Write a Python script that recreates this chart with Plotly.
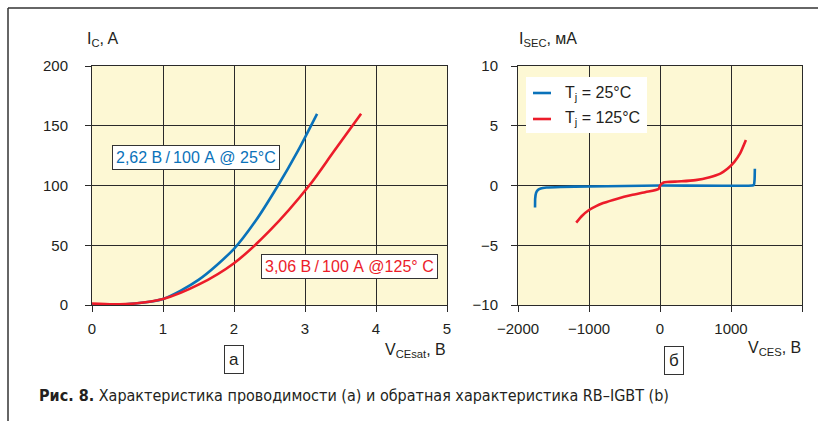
import plotly.graph_objects as go

W, H = 818, 421

# Forward conduction characteristic, I_C vs V_CEsat
vce_25 = [0, 0.3, 0.6, 1.0, 1.5, 2.0, 2.3, 2.62, 2.9, 3.17]
ic_25 = [0, 0.2, 1.2, 5, 21, 47, 70, 100, 129, 160]
vce_125 = [0, 0.3, 0.6, 1.0, 1.5, 2.0, 2.5, 3.06, 3.4, 3.79]
ic_125 = [1.2, 0.6, 1.2, 5, 17, 35, 62, 100, 128, 160]

# Reverse blocking characteristic, I_SEC vs V_CES
vces_25 = [-1760, -1758, -1745, -1720, -1680, -1600, -1400, -1000, -500, 0, 1300, 1322, 1332, 1336]
isec_25 = [-1.85, -1.1, -0.6, -0.38, -0.25, -0.17, -0.12, -0.08, -0.04, 0, 0, 0.05, 0.5, 1.4]
vces_125 = [-1180, -1100, -1000, -900, -800, -600, -400, -200, -20, 0, 50, 100, 300, 500, 700, 850, 950, 1050, 1130, 1210]
isec_125 = [-3.1, -2.55, -2.05, -1.72, -1.47, -1.1, -0.8, -0.55, -0.3, 0, 0.25, 0.3, 0.35, 0.45, 0.7, 1.0, 1.4, 2.0, 2.7, 3.8]

left_xticks = [0, 1, 2, 3, 4, 5]
left_yticks = [0, 50, 100, 150, 200]
right_xticks = [-2000, -1000, 0, 1000, 2000]
right_yticks = [-10, -5, 0, 5, 10]

BLUE = "#0a72ba"
RED = "#ec1c2a"
GRID = "#2a2a2a"
BG = "#fdf8d4"
TXT = "#231f20"
FONT = "Liberation Sans, Arial, sans-serif"


def px(x):
    return x / W


def py(y):
    return 1 - y / H


fig = go.Figure()
fig.add_trace(go.Scatter(x=vce_25, y=ic_25, mode="lines", line=dict(color=BLUE, width=2.6, shape="spline", smoothing=0.8),
                         xaxis="x", yaxis="y", showlegend=False, name="25°C"))
fig.add_trace(go.Scatter(x=vce_125, y=ic_125, mode="lines", line=dict(color=RED, width=2.6, shape="spline", smoothing=0.8),
                         xaxis="x", yaxis="y", showlegend=False, name="125°C"))
fig.add_trace(go.Scatter(x=vces_25, y=isec_25, mode="lines", line=dict(color=BLUE, width=2.6, shape="spline", smoothing=0.5),
                         xaxis="x2", yaxis="y2", showlegend=False, name="T<sub>j</sub> = 25°C"))
fig.add_trace(go.Scatter(x=vces_125, y=isec_125, mode="lines", line=dict(color=RED, width=2.6, shape="spline", smoothing=0.5),
                         xaxis="x2", yaxis="y2", showlegend=False, name="T<sub>j</sub> = 125°C"))

ydom = [py(305), py(66)]
axis_common = dict(showgrid=True, gridcolor=GRID, gridwidth=1, showline=True, linecolor=GRID, linewidth=1,
                   mirror=True, ticks="outside", ticklen=6, tickcolor=GRID, zeroline=False, automargin=False,
                   tickfont=dict(family=FONT, size=15, color=TXT))

fig.update_layout(
    width=W, height=H, margin=dict(l=0, r=0, t=0, b=0, pad=0),
    paper_bgcolor="white", plot_bgcolor=BG, showlegend=False,
    xaxis=dict(domain=[px(92), px(447)], range=[0, 5], tickvals=left_xticks, anchor="y",
               ticklabelstandoff=4, **axis_common),
    yaxis=dict(domain=ydom, range=[0, 200], tickvals=left_yticks, anchor="x",
               ticklabelstandoff=14, **axis_common),
    xaxis2=dict(domain=[px(518), px(802)], range=[-2000, 2000], tickvals=right_xticks, anchor="y2",
                ticklabelstandoff=4, **axis_common),
    yaxis2=dict(domain=ydom, range=[-10, 10], tickvals=right_yticks, anchor="x2",
                ticklabelstandoff=10, **axis_common),
)

shapes = [
    # frame around the figure
    dict(type="line", xref="paper", yref="paper", x0=px(8), x1=1, y0=py(8), y1=py(8), line=dict(color="#333333", width=1.5)),
    dict(type="line", xref="paper", yref="paper", x0=px(8), x1=px(8), y0=py(8), y1=0, line=dict(color="#333333", width=1.5)),
    # legend box of the right panel
    dict(type="rect", xref="paper", yref="paper", x0=px(526), x1=px(647), y0=py(133), y1=py(77),
         fillcolor="white", line=dict(width=0), layer="above"),
    dict(type="line", xref="paper", yref="paper", x0=px(533), x1=px(551), y0=py(93), y1=py(93),
         line=dict(color=BLUE, width=2.6), layer="above"),
    dict(type="line", xref="paper", yref="paper", x0=px(533), x1=px(551), y0=py(119), y1=py(119),
         line=dict(color=RED, width=2.6), layer="above"),
]
fig.update_layout(shapes=shapes)

ann = []


def text(x, y, s, size=15, color=TXT, xanchor="left", yanchor="middle", **kw):
    ann.append(dict(x=px(x), y=py(y), xref="paper", yref="paper", text=s, showarrow=False,
                    xanchor=xanchor, yanchor=yanchor, font=dict(family=FONT, size=size, color=color), **kw))


text(85, 40, "I<sub>C</sub>, A", size=16)
text(517, 40, "I<sub>SEC</sub>, мА", size=16)
text(448, 350, "V<sub>CEsat</sub>, В", size=16, xanchor="right")
text(803, 348, "V<sub>CES</sub>, В", size=16, xanchor="right")
text(234, 359, "а", size=17, xanchor="center", bordercolor="#333333", borderwidth=1, borderpad=4, bgcolor="white")
text(674, 360, "б", size=17, xanchor="center", bordercolor="#333333", borderwidth=1, borderpad=4, bgcolor="white")
text(196, 157, "2,62 В\u2009/\u2009100 А @ 25°C", size=16, color=BLUE, xanchor="center",
     bordercolor="#333333", borderwidth=1, borderpad=3, bgcolor="white")
text(349, 266, "3,06 В\u2009/\u2009100 А @125° C", size=16, color=RED, xanchor="center",
     bordercolor="#333333", borderwidth=1, borderpad=3, bgcolor="white")
text(563, 94, "T<sub>j</sub> = 25°C", size=16)
text(563, 118, "T<sub>j</sub> = 125°C", size=16)
ann.append(dict(x=px(37), y=py(395), xref="paper", yref="paper", showarrow=False, xanchor="left", yanchor="middle",
                text="<b>Рис. 8.</b> Характеристика проводимости (а) и обратная характеристика RB–IGBT (b)",
                font=dict(family="DejaVu Sans Condensed, sans-serif", size=16, color=TXT)))
fig.update_layout(annotations=ann)

# page body without default margin so the figure fills the window exactly
fig.write_html("out.html", post_script="document.body.style.margin='0';document.body.style.overflow='hidden';")
